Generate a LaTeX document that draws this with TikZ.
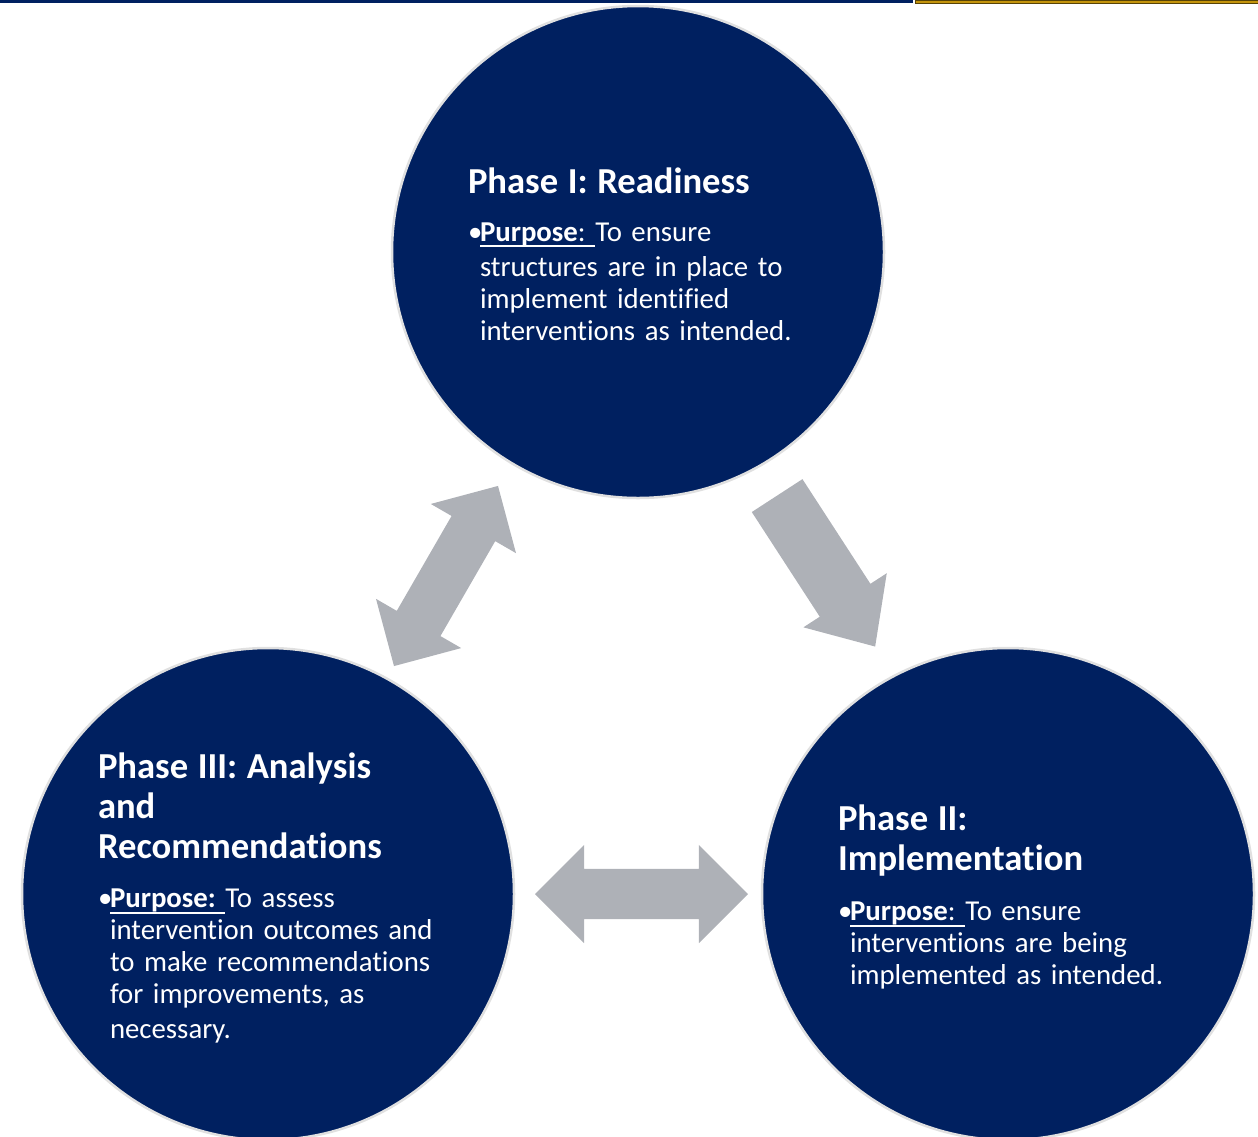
\documentclass[tikz,border=0pt]{standalone}
\usepackage{fontspec}
\setmainfont{Carlito}[Ligatures=NoCommon]
\frenchspacing
\usetikzlibrary{shapes.arrows,calc}

\definecolor{navy}{RGB}{0,32,96}
\definecolor{arrowgray}{RGB}{174,177,183}
\definecolor{gold}{RGB}{196,148,12}

\newcommand{\ttl}{\fontsize{36.6}{40}\selectfont\bfseries}
\newcommand{\bul}{\makebox[12pt][l]{•}}
\newcommand{\ind}{\hspace*{12pt}}
\newcommand{\purp}[1]{\setbox0\hbox{#1}\rlap{\rule[-6pt]{\wd0}{1.8pt}}\box0}

\tikzset{
  phase/.style={circle, fill=navy, draw=black!12, line width=2.5pt, minimum size=492pt},
  phasetext/.style={inner sep=0pt, text=white, text width=340pt, align=left,
    font=\fontsize{28.8}{32}\selectfont},
  dblarrow/.style={double arrow, fill=arrowgray, inner xsep=0pt, inner ysep=25pt,
    double arrow head extend=24pt, double arrow tip angle=90},
  onearrow/.style={single arrow, fill=arrowgray, inner xsep=0pt, inner ysep=30pt,
    single arrow head extend=19.5pt, single arrow tip angle=84}
}

\begin{document}
\begin{tikzpicture}[x=1pt, y=-1pt] % Start of the cycle diagram
\useasboundingbox (0,0) rectangle (1258,1136); % page size
% Rules along the top edge
\fill[navy] (0,0) rectangle (913,3);
\filldraw[fill=gold, draw=gold!45!black, line width=0.8pt] (915,0.4) rectangle (1258,3.2);

% The three phases
\node[phase] (phaseI) at (638,252) {}; % Phase I, top
\node[phase] (phaseII) at (1008,894) {}; % Phase II, right
\node[phase] (phaseIII) at (268,894) {}; % Phase III, left

% Texts of the phases
\node[phasetext] (txtI) at ($(phaseI)+(0,2)$) {
{\ttl Phase I: Readiness\par}\vspace{16pt}
\bul\purp{\textbf{Purpose}: }To ensure\\[3pt]
\ind structures are in place to\\
\ind implement identified\\
\ind interventions as intended.};
\node[phasetext] (txtII) at ($(phaseII)+(0,3)$) {
{\ttl Phase II:\\ Implementation\par}\vspace{18pt}
\bul\purp{\textbf{Purpose}: }To ensure\\
\ind interventions are being\\
\ind implemented as intended.};
\node[phasetext] (txtIII) at ($(phaseIII)+(0,4)$) {
{\ttl Phase III: Analysis\\ and\\ Recommendations\par}\vspace{17pt}
\bul\purp{\textbf{Purpose: }}To assess\\
\ind intervention outcomes and\\
\ind to make recommendations\\
\ind for improvements, as\\[3pt]
\ind necessary.};

% Block arrows between the phases
\node[dblarrow, minimum height=208pt, rotate=60] (arrIIII) at ($(phaseI)!0.5!(phaseIII)+(-7,3)$) {}; % Phase I <-> Phase III
\node[onearrow, minimum height=180pt, rotate=-57] (arrIII) at ($(phaseI)!0.5!(phaseII)+(-6,-16)$) {}; % Phase I -> Phase II
\node[dblarrow, minimum height=213pt] (arrIIIII) at ($(phaseIII)!0.5!(phaseII)+(3.5,0)$) {}; % Phase III <-> Phase II
\end{tikzpicture}
\end{document}
